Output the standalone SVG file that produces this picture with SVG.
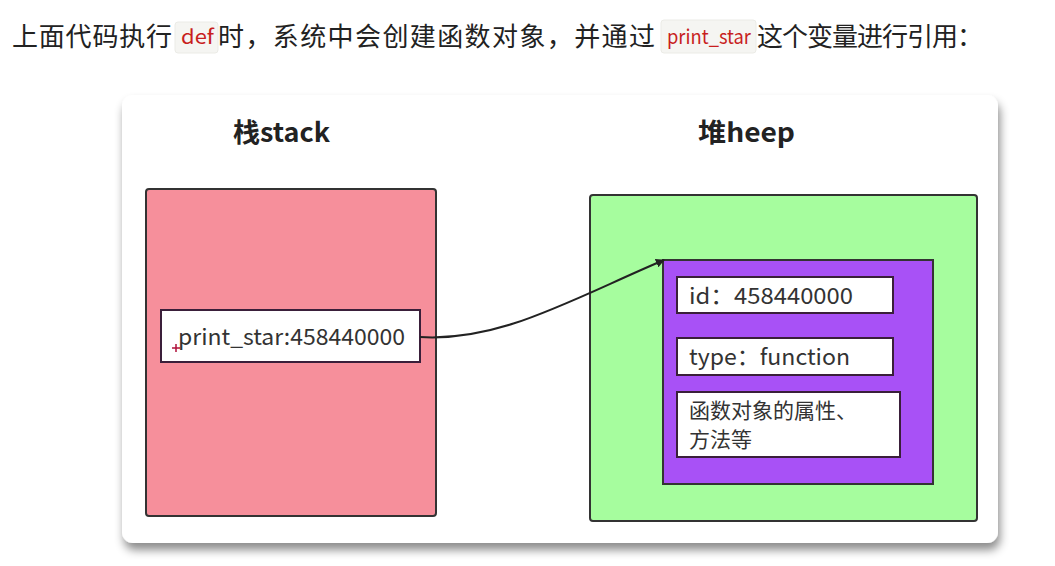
<svg xmlns="http://www.w3.org/2000/svg" width="1055" height="566" viewBox="0 0 1055 566">
<defs>
<filter id="sh" x="-10%" y="-10%" width="125%" height="130%">
<feDropShadow dx="2" dy="7" stdDeviation="5" flood-color="#000" flood-opacity="0.45"/>
</filter>
<marker id="ah" viewBox="0 0 10 10" refX="9" refY="5" markerWidth="9" markerHeight="9" orient="auto" markerUnits="userSpaceOnUse">
<path d="M0,0 L10,5 L0,10 z" fill="#222"/>
</marker>
<style>
.cn{font-family:"Noto Sans CJK SC","Liberation Sans",sans-serif;fill:#222;}
.top{font-size:26px;}
.code{font-family:"Noto Sans CJK SC","Liberation Sans",sans-serif;font-size:20px;fill:#c81e1e;}
.chip{fill:#f5f5f2;stroke:#ebebe6;stroke-width:1;}
.title{font-size:26px;font-weight:bold;}
.lbl{font-size:21px;fill:#333;}
.lat{font-size:22.5px;}
.box{stroke:#333;stroke-width:2;}
.wbox{fill:#fff;stroke:#3a1f3a;stroke-width:2;}
</style>
</defs>
<rect width="1055" height="566" fill="#fff"/>
<g id="caption">
<text class="cn top" x="12" y="46" textLength="160" lengthAdjust="spacing">上面代码执行</text>
<rect class="chip" x="175" y="22" width="43" height="31" rx="3"/>
<text class="code" x="181" y="44" textLength="33" lengthAdjust="spacingAndGlyphs">def</text>
<text class="cn top" x="218" y="46" textLength="437" lengthAdjust="spacing">时，系统中会创建函数对象，并通过</text>
<rect class="chip" x="661" y="20" width="95" height="33" rx="3"/>
<text class="code" x="667" y="44" textLength="84" lengthAdjust="spacingAndGlyphs">print_star</text>
<text class="cn top" x="757" y="46" textLength="226" lengthAdjust="spacing">这个变量进行引用：</text>
</g>
<g id="card">
<rect x="122" y="95" width="876" height="448" rx="11" fill="#fff" filter="url(#sh)"/>
</g>
<g id="stack">
<text class="cn title" x="233" y="142" textLength="97" lengthAdjust="spacingAndGlyphs">栈stack</text>
<rect class="box" x="146" y="189" width="290" height="327" rx="3" fill="#f68f9b"/>
</g>
<g id="heap">
<text class="cn title" x="698" y="142" textLength="97" lengthAdjust="spacingAndGlyphs">堆heep</text>
<rect class="box" x="590" y="195" width="387" height="326" rx="3" fill="#a6fd9e"/>
</g>
<g id="var">
<rect class="wbox" x="161" y="310" width="259" height="52"/>
<text class="cn lbl lat" x="178" y="345" textLength="227" lengthAdjust="spacingAndGlyphs">print_star:458440000</text>
<path d="M172,348 h8 M176,344 v8" stroke="#b0103a" stroke-width="1.5"/>
</g>
<g id="funcobj">
<rect class="box" x="663" y="260" width="270" height="224" fill="#a851f6"/>
</g>
<g id="id">
<rect class="wbox" x="677" y="277" width="216" height="36"/>
<text class="cn lbl lat" x="689" y="304" textLength="164" lengthAdjust="spacingAndGlyphs">id：458440000</text>
</g>
<g id="type">
<rect class="wbox" x="677" y="338" width="216" height="37"/>
<text class="cn lbl lat" x="689" y="365" textLength="161" lengthAdjust="spacingAndGlyphs">type：function</text>
</g>
<g id="attrs">
<rect class="wbox" x="677" y="392" width="223" height="65"/>
<text class="cn lbl" x="689" y="418">函数对象的属性、</text>
<text class="cn lbl" x="689" y="447">方法等</text>
</g>
<g id="connectors">
<path d="M420,337 C500,342 570,300 664,260" fill="none" stroke="#222" stroke-width="2" marker-end="url(#ah)"/>
</g>
</svg>
